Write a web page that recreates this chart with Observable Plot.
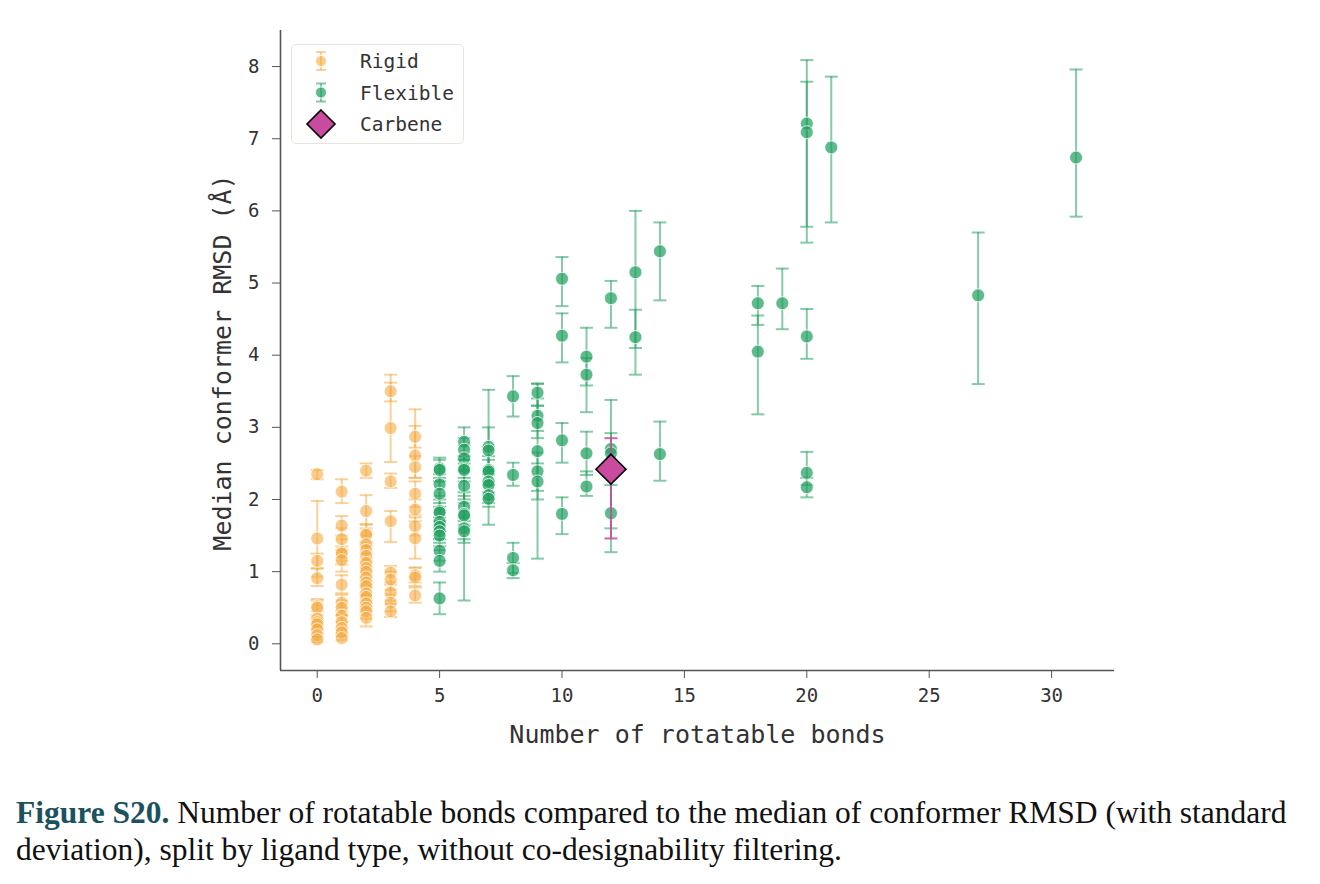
<!DOCTYPE html>
<html>
<head>
<meta charset="utf-8">
<script src="https://cdn.jsdelivr.net/npm/d3@7"></script>
<script src="https://cdn.jsdelivr.net/npm/@observablehq/plot@0.6"></script>
<style>
  html, body { margin: 0; padding: 0; background: #fff; }
  #wrap { position: relative; width: 1320px; height: 884px; }
  #chart { position: absolute; left: 0; top: 0; }
  #legend { position: absolute; left: 291px; top: 44px; width: 173px; height: 100px;
    border: 1.5px solid #e6e6da; border-radius: 5px; box-sizing: border-box; background: rgba(255,255,255,0.85); }
  #legend svg { position: absolute; left: 0; top: 0; }
  #caption { position: absolute; left: 16px; top: 794px; width: 1300px;
    font-family: "Liberation Serif", "DejaVu Serif", serif; font-size: 31.5px; line-height: 37px; color: #111; }
  #caption div { white-space: nowrap; }
  #caption b { color: #1b5260; }
  .mono text { font-family: "DejaVu Sans Mono", monospace; }
</style>
</head>
<body>
<div id="wrap">
  <div id="chart"></div>
  <div id="legend"></div>
  <div id="caption">
    <div><b>Figure S20.</b> <span>Number of rotatable bonds compared to the median of conformer RMSD (with standard</span></div>
    <div><span>deviation), split by ligand type, without co-designability filtering.</span></div>
  </div>
</div>
<script>
// ---------- data ----------
const rigidBonds = [
  0,0,0,0,0,0,0,0,0,0,0,0,
  1,1,1,1,1,1,1,1,1,1,1,1,1,1,
  2,2,2,2,2,2,2,2,2,2,2,2,2,2,2,2,2,2,2,
  3,3,3,3,3,3,3,3,3,
  4,4,4,4,4,4,4,4,4,4
];
const rigidMedian = [
  2.35,1.46,1.15,0.91,0.52,0.5,0.35,0.3,0.27,0.2,0.12,0.06,
  2.11,1.64,1.45,1.27,1.25,1.16,0.82,0.57,0.5,0.39,0.3,0.22,0.16,0.08,
  2.4,1.84,1.53,1.51,1.38,1.3,1.22,1.12,1.05,1.0,0.92,0.85,0.8,0.7,0.65,0.56,0.5,0.45,0.36,
  3.5,2.99,2.25,1.7,0.99,0.89,0.71,0.57,0.45,
  2.87,2.61,2.45,2.08,1.86,1.63,1.46,0.95,0.92,0.67
];
const rigidLow = [
  2.28,0.93,1.05,0.8,0.4,0.35,0.25,0.2,0.15,0.1,0.05,0.02,
  1.95,1.5,1.3,1.1,1.15,1.0,0.7,0.45,0.4,0.3,0.2,0.15,0.1,0.05,
  2.3,1.6,1.4,1.35,1.25,1.15,1.1,1.0,0.92,0.88,0.8,0.72,0.68,0.58,0.52,0.45,0.4,0.35,0.24,
  3.36,2.52,2.16,1.41,0.85,0.75,0.6,0.45,0.37,
  2.72,2.3,2.3,1.9,1.7,1.5,1.18,0.85,0.8,0.57
];
const rigidHigh = [
  2.41,1.98,1.25,1.04,0.62,0.6,0.45,0.38,0.35,0.28,0.2,0.1,
  2.28,1.77,1.6,1.45,1.35,1.3,0.95,0.68,0.6,0.5,0.4,0.3,0.22,0.12,
  2.5,2.06,1.66,1.65,1.5,1.42,1.35,1.25,1.18,1.12,1.05,0.98,0.92,0.82,0.78,0.68,0.6,0.56,0.48,
  3.73,3.62,2.36,1.84,1.08,1.0,0.82,0.68,0.55,
  3.02,3.25,2.6,2.25,2.0,1.78,1.75,1.06,1.05,0.78
];

const flexBonds = [
  5,5,5,5,5,5,5,5,5,5,5,5,5,
  6,6,6,6,6,6,6,6,6,6,6,
  7,7,7,7,7,7,7,7,
  8,8,8,8,
  9,9,9,9,9,9,
  10,10,10,10,
  11,11,11,11,
  12,12,12,12,
  13,13,
  14,14,
  18,18,
  19,
  20,20,20,20,20,
  21,
  27,
  31
];
const flexMedian = [
  2.43,2.41,2.21,2.08,1.84,1.82,1.69,1.62,1.56,1.5,1.29,1.15,0.63,
  2.8,2.69,2.57,2.43,2.41,2.19,1.9,1.8,1.78,1.6,1.56,
  2.73,2.68,2.41,2.39,2.25,2.2,2.06,2.01,
  3.43,2.34,1.19,1.02,
  3.48,3.16,3.06,2.67,2.39,2.25,
  5.06,4.27,2.82,1.8,
  3.98,3.73,2.64,2.18,
  4.79,2.7,2.64,1.81,
  5.15,4.25,
  5.44,2.63,
  4.72,4.05,
  4.72,
  7.21,7.09,4.26,2.37,2.17,
  6.88,
  4.83,
  6.74
];
const flexLow = [
  2.3,2.25,2.05,1.9,1.7,1.65,1.55,1.45,1.4,1.35,1.15,1.0,0.41,
  2.6,2.5,2.4,2.3,2.25,2.0,1.75,1.65,1.4,0.6,1.45,
  1.95,2.4,2.25,2.2,2.1,2.0,1.9,1.65,
  3.15,2.19,0.98,0.91,
  3.3,2.95,2.85,1.18,2.12,2.0,
  4.68,3.9,2.51,1.52,
  3.58,3.21,2.34,2.05,
  4.38,1.6,2.35,1.27,
  4.1,3.73,
  4.76,2.26,
  4.42,3.18,
  4.36,
  5.78,5.56,3.95,2.2,2.03,
  5.84,
  3.6,
  5.92
];
const flexHigh = [
  2.58,2.55,2.35,2.25,2.0,1.95,1.85,1.75,1.7,1.65,1.45,1.3,0.85,
  3.0,2.85,2.75,2.55,2.6,2.4,2.05,1.95,2.1,2.55,1.7,
  3.52,3.0,2.55,2.6,2.4,2.35,2.2,2.35,
  3.71,2.51,1.4,1.12,
  3.61,3.4,3.3,3.6,2.65,2.5,
  5.36,4.58,3.06,2.03,
  4.38,3.96,2.94,2.39,
  5.03,3.38,2.92,2.2,
  6.0,4.63,
  5.84,3.08,
  4.96,4.55,
  5.2,
  8.09,7.79,4.64,2.66,2.3,
  7.86,
  5.7,
  7.96
];

const carbeneBonds = [12];
const carbeneMedian = [2.42];
const carbeneLow = [1.46];
const carbeneHigh = [2.85];

const xTicks = [0, 5, 10, 15, 20, 25, 30];
const yTicks = [0, 1, 2, 3, 4, 5, 6, 7, 8];
const xDomain = [-1.5, 32.57];
const yDomain = [-0.37, 8.5];
const xLabel = "Number of rotatable bonds";
const yLabel = "Median conformer RMSD (Å)";

// ---------- build ----------
const toRows = (xs, ms, lo, hi) => xs.map((x, i) => ({x, y: ms[i], lo: lo[i], hi: hi[i]}));
const rigid = toRows(rigidBonds, rigidMedian, rigidLow, rigidHigh);
const flex = toRows(flexBonds, flexMedian, flexLow, flexHigh);
const carbene = toRows(carbeneBonds, carbeneMedian, carbeneLow, carbeneHigh);

const capSymbol = {
  draw(context, size) {
    const r = Math.sqrt(size / Math.PI);
    context.moveTo(-r, 0);
    context.lineTo(r, 0);
  }
};

const orange = "#f5ac45";
const green = "#23a160";
const pink = "#c94ba0";

function errorMarks(data, color, opacity) {
  return [
    Plot.ruleX(data, {x: "x", y1: "lo", y2: "hi", stroke: color, strokeOpacity: opacity, strokeWidth: 2}),
    Plot.dot(data, {x: "x", y: "lo", symbol: capSymbol, r: 6.5, stroke: color, strokeOpacity: opacity, strokeWidth: 2, fill: "none"}),
    Plot.dot(data, {x: "x", y: "hi", symbol: capSymbol, r: 6.5, stroke: color, strokeOpacity: opacity, strokeWidth: 2, fill: "none"})
  ];
}

const chart = Plot.plot({
  width: 1320,
  height: 770,
  marginLeft: 280,
  marginRight: 206,
  marginTop: 30,
  marginBottom: 100,
  className: "mono",
  style: {fontFamily: "DejaVu Sans Mono, monospace", color: "#333", background: "white"},
  x: {domain: xDomain},
  y: {domain: yDomain},
  marks: [
    Plot.axisX({ticks: xTicks, tickSize: 8, tickPadding: 10, fontSize: 19, label: null, stroke: "#555"}),
    Plot.axisY({ticks: yTicks, tickSize: 8, tickPadding: 13, fontSize: 19, label: null, stroke: "#555"}),
    Plot.ruleX([xDomain[0]], {stroke: "#555", strokeWidth: 1.6}),
    Plot.ruleY([yDomain[0]], {stroke: "#555", strokeWidth: 1.6}),
    Plot.text([xLabel], {frameAnchor: "bottom", dy: 72, fontSize: 25, fill: "#333"}),
    Plot.text([yLabel], {frameAnchor: "left", textAnchor: "middle", dx: -58, dy: 12, rotate: -90, fontSize: 25, fill: "#333"}),
    ...errorMarks(rigid, orange, 0.55),
    Plot.dot(rigid, {x: "x", y: "y", r: 6.5, fill: orange, fillOpacity: 0.6, stroke: "white", strokeWidth: 0.8}),
    ...errorMarks(flex, green, 0.55),
    Plot.dot(flex, {x: "x", y: "y", r: 6.5, fill: green, fillOpacity: 0.72, stroke: "white", strokeWidth: 0.8}),
    ...errorMarks(carbene, pink, 0.85),
    Plot.dot(carbene, {x: "x", y: "y", symbol: "diamond2", r: 13.5, fill: pink, stroke: "black", strokeWidth: 1.6})
  ]
});
document.getElementById("chart").appendChild(chart);

// ---------- legend ----------
const legendItems = [
  {name: "Rigid", color: orange, kind: "err", op: 0.6},
  {name: "Flexible", color: green, kind: "err", op: 0.72},
  {name: "Carbene", color: pink, kind: "diamond"}
];
const lsvg = d3.create("svg").attr("width", 173).attr("height", 100);
legendItems.forEach((d, i) => {
  const cy = 16 + i * 31.5;
  const g = lsvg.append("g").attr("transform", `translate(29,${cy})`);
  if (d.kind === "err") {
    g.append("line").attr("y1", -9).attr("y2", 9).attr("stroke", d.color).attr("stroke-opacity", 0.55).attr("stroke-width", 2);
    g.append("line").attr("x1", -5).attr("x2", 5).attr("y1", -9).attr("y2", -9).attr("stroke", d.color).attr("stroke-opacity", 0.55).attr("stroke-width", 2);
    g.append("line").attr("x1", -5).attr("x2", 5).attr("y1", 9).attr("y2", 9).attr("stroke", d.color).attr("stroke-opacity", 0.55).attr("stroke-width", 2);
    g.append("circle").attr("r", 5.5).attr("fill", d.color).attr("fill-opacity", d.op).attr("stroke", "white").attr("stroke-width", 0.8);
  } else {
    g.append("path").attr("d", "M0,-14L14,0L0,14L-14,0Z").attr("fill", d.color).attr("stroke", "black").attr("stroke-width", 1.6);
  }
  lsvg.append("text").attr("x", 68).attr("y", cy + 7).attr("font-family", "DejaVu Sans Mono, monospace")
    .attr("font-size", 19.5).attr("fill", "#333").text(d.name);
});
document.getElementById("legend").appendChild(lsvg.node());
</script>
</body>
</html>
